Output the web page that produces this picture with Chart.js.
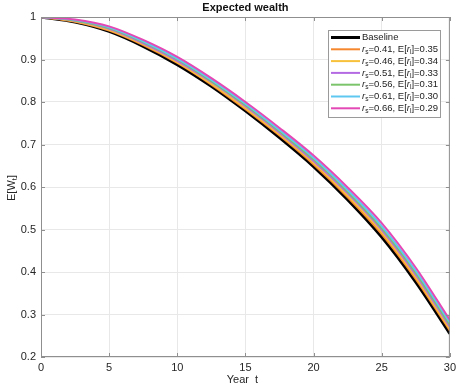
<!DOCTYPE html>
<html>
<head>
<meta charset="utf-8">
<script src="https://cdn.jsdelivr.net/npm/chart.js@4.4.1/dist/chart.umd.min.js"></script>
<style>
  html, body { margin: 0; padding: 0; background: #fff; }
  canvas { display: block; }
</style>
</head>
<body>
<canvas id="wealth" width="460" height="385"></canvas>
<script>
// values
const years = [0, 2.5, 5, 7.5, 10, 12.5, 15, 17.5, 20, 22.5, 25, 27.5, 30];
const baseline = [1.000, 0.988, 0.966, 0.931, 0.888, 0.837, 0.779, 0.716, 0.648, 0.570, 0.482, 0.376, 0.255];
const wealth41 = [1.000, 0.989, 0.968, 0.934, 0.892, 0.841, 0.783, 0.721, 0.653, 0.576, 0.489, 0.383, 0.262];
const wealth46 = [1.000, 0.990, 0.970, 0.936, 0.894, 0.843, 0.786, 0.724, 0.657, 0.580, 0.494, 0.388, 0.266];
const wealth51 = [1.000, 0.991, 0.972, 0.938, 0.897, 0.847, 0.790, 0.728, 0.661, 0.585, 0.499, 0.393, 0.271];
const wealth56 = [1.000, 0.992, 0.974, 0.941, 0.900, 0.849, 0.793, 0.731, 0.665, 0.589, 0.503, 0.398, 0.276];
const wealth61 = [1.000, 0.993, 0.976, 0.943, 0.902, 0.852, 0.796, 0.734, 0.669, 0.593, 0.508, 0.403, 0.281];
const wealth66 = [1.000, 0.994, 0.978, 0.946, 0.906, 0.856, 0.800, 0.739, 0.674, 0.599, 0.515, 0.410, 0.287];

const rShort = [0.41, 0.46, 0.51, 0.56, 0.61, 0.66];
const rLong = [0.35, 0.34, 0.33, 0.31, 0.30, 0.29];
const xTicks = [0, 5, 10, 15, 20, 25, 30];
const yTicks = [0.2, 0.3, 0.4, 0.5, 0.6, 0.7, 0.8, 0.9, 1];

const seriesValues = [baseline, wealth41, wealth46, wealth51, wealth56, wealth61, wealth66];
const seriesColors = ['#000000', '#f5872f', '#f7c13c', '#b36ae2', '#7bc46b', '#5ec8f0', '#e448b5'];

const FONT = '"Liberation Sans", Arial, Helvetica, sans-serif';

function toPoints(vals) {
    return vals.map((v, i) => ({ x: years[i], y: v }));
}

const datasets = seriesValues.map((vals, i) => ({
    label: i === 0 ? 'Baseline' : 'r_s=' + rShort[i - 1].toFixed(2) + ', E[r_l]=' + rLong[i - 1].toFixed(2),
    data: toPoints(vals),
    borderColor: seriesColors[i],
    backgroundColor: seriesColors[i],
    borderWidth: i === 0 ? 3 : 2,
    pointRadius: 0,
    cubicInterpolationMode: 'monotone',
    order: seriesValues.length - i
}));

// draws text with "_x" subscripts, italic r if asked (matlab tex look)
function drawRich(ctx, text, x, y, size, italicR) {
    let cx = x;
    for (let i = 0; i < text.length; i++) {
        if (text[i] === '_') {
            ctx.font = (size * 0.7) + 'px ' + FONT;
            ctx.fillText(text[i + 1], cx, y + size * 0.3);
            cx += ctx.measureText(text[i + 1]).width;
            i++;
        } else {
            ctx.font = (italicR && text[i] === 'r' ? 'italic ' : '') + size + 'px ' + FONT;
            ctx.fillText(text[i], cx, y);
            cx += ctx.measureText(text[i]).width;
        }
    }
    return cx - x;
}

function richWidth(ctx, text, size, italicR) {
    let w = 0;
    for (let i = 0; i < text.length; i++) {
        if (text[i] === '_') {
            ctx.font = (size * 0.7) + 'px ' + FONT;
            w += ctx.measureText(text[i + 1]).width;
            i++;
        } else {
            ctx.font = (italicR && text[i] === 'r' ? 'italic ' : '') + size + 'px ' + FONT;
            w += ctx.measureText(text[i]).width;
        }
    }
    return w;
}

const decorPlugin = {
    id: 'decor',
    afterDraw(chart) {
        const ctx = chart.ctx;
        const a = chart.chartArea;
        const xs = chart.scales.x;
        const ys = chart.scales.y;
        ctx.save();

        // box and inward ticks
        ctx.strokeStyle = '#8f8f8f';
        ctx.lineWidth = 1;
        ctx.strokeRect(a.left + 0.5, a.top + 0.5, a.right - a.left - 1, a.bottom - a.top - 1);
        ctx.beginPath();
        xTicks.forEach(t => {
            const px = Math.round(xs.getPixelForValue(t)) + 0.5;
            ctx.moveTo(px, a.bottom); ctx.lineTo(px, a.bottom - 4);
            ctx.moveTo(px, a.top); ctx.lineTo(px, a.top + 4);
        });
        yTicks.forEach(t => {
            const py = Math.round(ys.getPixelForValue(t)) + 0.5;
            ctx.moveTo(a.left, py); ctx.lineTo(a.left + 4, py);
            ctx.moveTo(a.right, py); ctx.lineTo(a.right - 4, py);
        });
        ctx.stroke();

        // title and axis labels
        ctx.fillStyle = '#111';
        ctx.textAlign = 'center';
        ctx.textBaseline = 'middle';
        ctx.font = 'bold 11px ' + FONT;
        ctx.fillText('Expected wealth', (a.left + a.right) / 2, 8);
        ctx.fillStyle = '#262626';
        ctx.font = '11px ' + FONT;
        ctx.fillText('Year  t', (a.left + a.right) / 2 - 3, 380);

        ctx.save();
        ctx.translate(12, 188);
        ctx.rotate(-Math.PI / 2);
        ctx.textAlign = 'left';
        const yl = 'E[W_t]';
        drawRich(ctx, yl, -richWidth(ctx, yl, 11, false) / 2, 0, 11, false);
        ctx.restore();

        // legend box inside the axes
        const lx = 328, ly = 30, lw = 112, lh = 87;
        ctx.fillStyle = '#fff';
        ctx.fillRect(lx, ly, lw, lh);
        ctx.strokeStyle = '#9a9a9a';
        ctx.strokeRect(lx + 0.5, ly + 0.5, lw, lh);
        ctx.textAlign = 'left';
        ctx.textBaseline = 'middle';
        chart.data.datasets.forEach((ds, i) => {
            const ry = 37.5 + i * 11.8;
            ctx.strokeStyle = ds.borderColor;
            ctx.lineWidth = ds.borderWidth;
            ctx.beginPath();
            ctx.moveTo(331, ry);
            ctx.lineTo(360, ry);
            ctx.stroke();
            ctx.fillStyle = '#222';
            drawRich(ctx, ds.label, 362, ry, 9.5, true);
        });
        ctx.restore();
    }
};

new Chart(document.getElementById('wealth').getContext('2d'), {
    type: 'line',
    data: { datasets: datasets },
    options: {
        responsive: false,
        animation: false,
        layout: { padding: { left: 0, right: 7, top: 17, bottom: 0 } },
        plugins: {
            legend: { display: false },
            title: { display: false },
            tooltip: { enabled: false }
        },
        scales: {
            x: {
                type: 'linear',
                min: 0,
                max: 30,
                afterBuildTicks: s => { s.ticks = xTicks.map(v => ({ value: v })); },
                afterFit: s => { s.height = 28; },
                grid: { color: '#e8e8e8', drawTicks: false },
                border: { display: false },
                ticks: {
                    padding: 4,
                    maxRotation: 0,
                    color: '#262626',
                    font: { family: FONT, size: 11 },
                    callback: v => String(v)
                }
            },
            y: {
                type: 'linear',
                min: 0.2,
                max: 1,
                afterBuildTicks: s => { s.ticks = yTicks.map(v => ({ value: v })); },
                afterFit: s => { s.width = 41; },
                grid: { color: '#e8e8e8', drawTicks: false },
                border: { display: false },
                ticks: {
                    padding: 5,
                    color: '#262626',
                    font: { family: FONT, size: 11 },
                    callback: v => String(+v.toFixed(1))
                }
            }
        }
    },
    plugins: [decorPlugin]
});
</script>
</body>
</html>
